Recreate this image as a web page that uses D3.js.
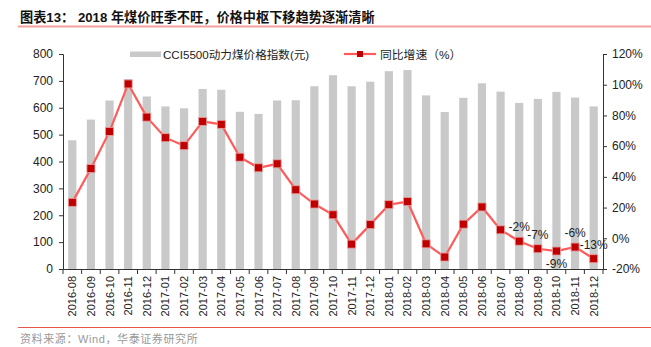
<!DOCTYPE html>
<html><head><meta charset="utf-8">
<script src="https://cdn.jsdelivr.net/npm/d3@7"></script>
<style>
body{margin:0;background:#fff;}
text{font-family:"Liberation Sans","Noto Sans CJK SC",Arial,sans-serif;}
</style></head>
<body><svg id="c" width="651" height="347"></svg>
<script>
const categories = ["2016-08","2016-09","2016-10","2016-11","2016-12","2017-01","2017-02","2017-03","2017-04","2017-05","2017-06","2017-07","2017-08","2017-09","2017-10","2017-11","2017-12","2018-01","2018-02","2018-03","2018-04","2018-05","2018-06","2018-07","2018-08","2018-09","2018-10","2018-11","2018-12"];
const cciValues = [479,556,627,707,642,605,598,670,667,585,577,627,628,680,721,680,697,736,740,646,584,637,691,660,618,633,659,638,605];
const yoyValues = [23.4,45.4,69.6,100.5,78.9,65.5,60.3,76.1,74.2,52.8,45.9,48.5,31.6,22.3,15.3,-3.8,8.9,21.9,23.9,-3.6,-12.2,9.2,20.4,5.5,-1.9,-6.8,-8.3,-5.7,-13.3];
const labelledPoints = [{cat:"2018-08",text:"-2%",pos:"above"},{cat:"2018-09",text:"-7%",pos:"above"},{cat:"2018-10",text:"-9%",pos:"below"},{cat:"2018-11",text:"-6%",pos:"above"},{cat:"2018-12",text:"-13%",pos:"above"}];
const leftTicks = [0,100,200,300,400,500,600,700,800];
const rightTicks = [-20,0,20,40,60,80,100,120];
const titleText = "图表13：  2018 年煤价旺季不旺，价格中枢下移趋势逐渐清晰";
const sourceText = "资料来源：Wind，华泰证券研究所";
const legendBar = "CCI5500动力煤价格指数(元)";
const legendLine = "同比增速（%）";

const svg = d3.select("#c");
const L=63, R=603, T=54, B=269;
const x = d3.scaleBand().domain(categories).range([L,R]).padding(0);
const xb = d3.scaleBand().domain(categories).range([L,R]).paddingInner(0.56).paddingOuter(0.28);
const yl = d3.scaleLinear().domain([0,800]).range([B,T]);
const yr = d3.scaleLinear().domain([-20,120]).range([B,T]);

// title
svg.append("text").attr("x",20).attr("y",22).attr("font-size",13.2).attr("font-weight","bold").attr("fill","#111").text(titleText);
svg.append("line").attr("x1",18).attr("x2",651).attr("y1",26.5).attr("y2",26.5).attr("stroke","#F2A19B").attr("stroke-width",2);

// bars
svg.append("g").selectAll("rect").data(categories).join("rect")
  .attr("x",d=>xb(d)).attr("width",xb.bandwidth())
  .attr("y",(d,i)=>yl(cciValues[i])).attr("height",(d,i)=>B-yl(cciValues[i]))
  .attr("fill","#C9C9C9");

// axes
const axL = svg.append("g").attr("transform",`translate(${L},0)`)
  .call(d3.axisLeft(yl).tickValues(leftTicks).tickSize(4).tickPadding(6));
const axR = svg.append("g").attr("transform",`translate(${R},0)`)
  .call(d3.axisRight(yr).tickValues(rightTicks).tickSize(4).tickPadding(5).tickFormat(d=>d+"%"));
[axL,axR].forEach(a=>{a.selectAll("text").attr("font-size",12).attr("fill","#222").attr("font-family","Liberation Sans, Arial");
  a.selectAll("line,path").attr("stroke","#333");});

const axB = svg.append("g").attr("transform",`translate(0,${B})`)
  .call(d3.axisBottom(x).tickSize(0).tickPadding(0));
axB.select("path").attr("stroke","#333");
axB.selectAll(".tick text").attr("font-size",11).attr("fill","#222")
  .attr("font-family","Liberation Sans, Arial")
  .attr("transform","translate(4,7) rotate(-90)").attr("text-anchor","end").attr("dy",0).attr("y",0).attr("x",0);
// boundary ticks
const bounds = categories.map(c=>x(c)).concat([x(categories[categories.length-1])+x.bandwidth()]);
svg.append("g").selectAll("line").data(bounds).join("line")
  .attr("x1",d=>d).attr("x2",d=>d).attr("y1",B).attr("y2",B+5).attr("stroke","#333");

// line
const cx = d=>x(d)+x.bandwidth()/2;
const line = d3.line().x((d,i)=>cx(categories[i])).y(d=>yr(d));
svg.append("path").datum(yoyValues).attr("d",line).attr("fill","none").attr("stroke","#FF5B5B").attr("stroke-width",2.2);
svg.append("g").selectAll("rect").data(yoyValues).join("rect")
  .attr("x",(d,i)=>cx(categories[i])-4).attr("y",d=>yr(d)-4).attr("width",8).attr("height",8)
  .attr("fill","#C00000").attr("stroke","#E8A0A0").attr("stroke-width",0.8);

// data labels
svg.append("g").selectAll("text").data(labelledPoints).join("text")
  .attr("x",d=>cx(d.cat)).attr("y",d=>{const v=yoyValues[categories.indexOf(d.cat)];return d.pos==="above"?yr(v)-10:yr(v)+17;})
  .attr("text-anchor","middle").attr("font-size",12).attr("fill","#222").text(d=>d.text);

// legend
svg.append("rect").attr("x",130).attr("y",51.5).attr("width",31).attr("height",5.5).attr("fill","#C9C9C9");
svg.append("text").attr("x",163).attr("y",59).attr("font-size",11.6).attr("fill","#222").text(legendBar);
svg.append("line").attr("x1",344).attr("x2",376).attr("y1",54).attr("y2",54).attr("stroke","#FF5B5B").attr("stroke-width",2.2);
svg.append("rect").attr("x",357).attr("y",51).attr("width",6).attr("height",6).attr("fill","#C00000");
svg.append("text").attr("x",380).attr("y",59).attr("font-size",11.8).attr("fill","#222").text(legendLine);

// bottom rule & source
svg.append("line").attr("x1",18).attr("x2",651).attr("y1",327.5).attr("y2",327.5).attr("stroke","#E8554A").attr("stroke-width",1.2);
svg.append("text").attr("x",20).attr("y",343).attr("font-size",11).attr("letter-spacing",0.6).attr("fill","#999").text(sourceText);
</script></body></html>
